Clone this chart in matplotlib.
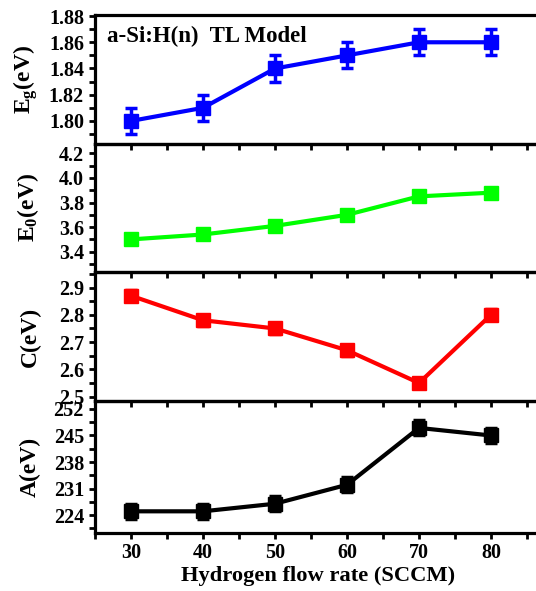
import matplotlib
matplotlib.use("Agg")
import matplotlib.pyplot as plt
from matplotlib.ticker import MultipleLocator

flow = [30, 40, 50, 60, 70, 80]
eg = [1.80, 1.81, 1.84, 1.85, 1.86, 1.86]
eg_err = [0.01, 0.01, 0.01, 0.01, 0.01, 0.01]
e0 = [3.50, 3.54, 3.61, 3.70, 3.85, 3.88]
e0_err = [0.03, 0.03, 0.03, 0.03, 0.03, 0.03]
c = [2.87, 2.78, 2.75, 2.67, 2.55, 2.80]
c_err = [0.02, 0.02, 0.02, 0.02, 0.02, 0.02]
a = [225, 225, 227, 232, 247, 245]
a_err = [2, 2, 2, 2, 2, 2]

xticks = [30, 40, 50, 60, 70, 80]

plt.rcParams['font.family'] = ['Liberation Serif', 'DejaVu Serif']
plt.rcParams['font.weight'] = 'bold'
plt.rcParams['mathtext.fontset'] = 'custom'
plt.rcParams['mathtext.rm'] = 'Liberation Serif:bold'
plt.rcParams['mathtext.it'] = 'Liberation Serif:bold'
plt.rcParams['mathtext.bf'] = 'Liberation Serif:bold'

W, H = 536, 591
fig = plt.figure(figsize=(W / 100, H / 100), dpi=100)

left_px = 95
x0, x1 = 25, 87
px_per_unit = 7.2
right_px = left_px + (x1 - x0) * px_per_unit
axw_px = right_px - left_px

bounds = [(15, 143.5), (143.5, 272), (272, 401), (401, 533.3)]
label_right_px = [40, 41, 41, 41]
panels = [
    (eg, eg_err, '#0000ff', (1.7828, 1.8808), 0.01, r'E$_{\rm g}$(eV)', ['1.80', '1.82', '1.84', '1.86', '1.88'], [1.80, 1.82, 1.84, 1.86, 1.88]),
    (e0, e0_err, '#00ff00', (3.235, 4.28), 0.1, r'E$_{\rm 0}$(eV)', ['3.4', '3.6', '3.8', '4.0', '4.2'], [3.4, 3.6, 3.8, 4.0, 4.2]),
    (c, c_err, '#ff0000', (2.484, 2.957), 0.05, 'C(eV)', ['2.5', '2.6', '2.7', '2.8', '2.9'], [2.5, 2.6, 2.7, 2.8, 2.9]),
    (a, a_err, '#000000', (219.2, 254.1), 3.5, 'A(eV)', ['224', '231', '238', '245', '252'], [224, 231, 238, 245, 252]),
]

axes = []
for i, ((top, bot), (vals, errs, col, ylim, mnr, lab, tl, tv)) in enumerate(zip(bounds, panels)):
    ax = fig.add_axes([left_px / W, (H - bot) / H, axw_px / W, (bot - top) / H])
    ax.set_facecolor('none')
    ax.errorbar(flow, vals, yerr=errs, color=col, lw=3, marker='s', ms=10,
                elinewidth=2.5, capsize=4, capthick=2.5, solid_capstyle='round')
    ax.set_xlim(x0, x1)
    ax.set_ylim(*ylim)
    ax.set_yticks(tv)
    ax.set_yticklabels(tl)
    ax.yaxis.set_minor_locator(MultipleLocator(mnr))
    ax.set_xticks(xticks)
    ax.xaxis.set_minor_locator(MultipleLocator(5))
    for s in ax.spines.values():
        s.set_linewidth(2.3)
    ax.tick_params(axis='both', which='both', direction='out', width=2, labelsize=14.5)
    ax.tick_params(axis='y', which='both', length=4, pad=4)
    ax.tick_params(axis='x', which='both', length=4, pad=3)
    ax.set_ylabel(lab, fontsize=17, fontweight='bold')
    ax.yaxis.set_label_coords((label_right_px[i] - left_px) / axw_px, 0.5)
    if i < 3:
        ax.tick_params(axis='x', labelbottom=False)
    axes.append(ax)

axes[3].set_xlabel('Hydrogen flow rate (SCCM)', fontsize=16.2, fontweight='bold', labelpad=2)
axes[0].text((107 - left_px) / axw_px, 0.83, 'a-Si:H(n)  TL Model', transform=axes[0].transAxes,
             fontsize=16.5, fontweight='bold', va='center', ha='left')

fig.savefig('out.png', dpi=100)
